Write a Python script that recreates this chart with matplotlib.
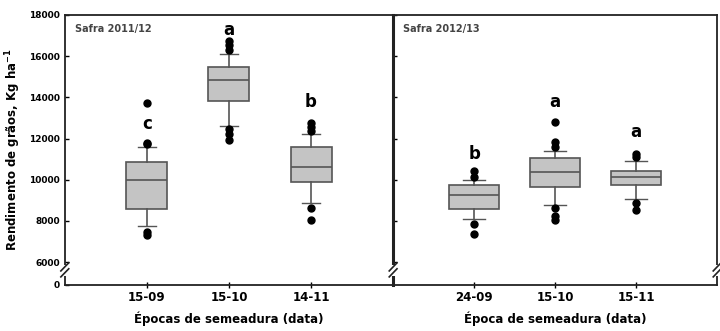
import numpy as np
import matplotlib.pyplot as plt
from matplotlib.patches import Rectangle

# data (Kg ha-1)
dates_1 = ['15-09', '15-10', '14-11']
med_1 = [10000, 14820, 10630]
q1_1 = [8600, 13810, 9900]
q3_1 = [10850, 15450, 11590]
whislo_1 = [7750, 12600, 8850]
whishi_1 = [11600, 16100, 12200]
fliers_1 = [[7480, 7300, 11720, 11780, 13700],
            [12450, 12200, 11950, 16300, 16550, 16750],
            [8650, 8030, 12350, 12550, 12750]]
letters_1 = ['c', 'a', 'b']
letter_y_1 = [12700, 17250, 13750]

dates_2 = ['24-09', '15-10', '15-11']
med_2 = [9280, 10390, 10150]
q1_2 = [8560, 9660, 9760]
q3_2 = [9760, 11060, 10430]
whislo_2 = [8070, 8750, 9040]
whishi_2 = [10000, 11400, 10920]
fliers_2 = [[7830, 7350, 10150, 10400],
            [8650, 8220, 8030, 11590, 11830, 12800],
            [8850, 8550, 11100, 11250]]
letters_2 = ['b', 'a', 'a']
letter_y_2 = [11250, 13750, 12300]

K = 0.185  # compression of the 0-6000 segment


def fwd(y):
    y = np.asarray(y, dtype=float)
    return np.where(y >= 6000, y, 6000 - (6000 - y) * K)


def inv(y):
    y = np.asarray(y, dtype=float)
    return np.where(y >= 6000, y, 6000 - (6000 - y) / K)


def stats(med, q1, q3, lo, hi, fl):
    return [dict(med=m, q1=a, q3=b, whislo=c, whishi=d, fliers=f)
            for m, a, b, c, d, f in zip(med, q1, q3, lo, hi, fl)]


def break_mark(ax, x):
    ax.add_patch(Rectangle((x - 0.012, 0.035), 0.024, 0.04, transform=ax.transAxes,
                           facecolor='white', edgecolor='none', clip_on=False, zorder=5))
    for dy in (0.0, 0.022):
        ax.plot([x - 0.012, x + 0.012], [0.03 + dy, 0.06 + dy], transform=ax.transAxes,
                color='#222222', lw=1.2, clip_on=False, zorder=6)


fig = plt.figure(figsize=(7.2, 3.31), dpi=100)
ax1 = fig.add_axes([0.090, 0.139, 0.456, 0.816])
ax2 = fig.add_axes([0.546, 0.139, 0.450, 0.816])

gray = '#c4c4c4'
edge = '#555555'

panels = [(ax1, dates_1, stats(med_1, q1_1, q3_1, whislo_1, whishi_1, fliers_1), letters_1, letter_y_1, 0.5,
           'Safra 2011/12', 'Épocas de semeadura (data)'),
          (ax2, dates_2, stats(med_2, q1_2, q3_2, whislo_2, whishi_2, fliers_2), letters_2, letter_y_2, 0.62,
           'Safra 2012/13', 'Época de semeadura (data)')]

for ax, dates, st, letters, ly, w, title, xlab in panels:
    pos = np.arange(1, len(dates) + 1)
    ax.bxp(st, positions=pos, widths=w, patch_artist=True,
           boxprops=dict(facecolor=gray, edgecolor=edge, lw=1.2),
           medianprops=dict(color=edge, lw=1.2),
           whiskerprops=dict(color=edge, lw=1.2),
           capprops=dict(color=edge, lw=1.0),
           capwidths=w * 0.45,
           flierprops=dict(marker='o', markerfacecolor='black', markeredgecolor='black', markersize=5))
    ax.set_yscale('function', functions=(fwd, inv))
    ax.set_ylim(0, 18000)
    ax.set_xlim(0, 4)
    ax.set_xticks(pos)
    ax.set_xticklabels(dates, fontsize=8.5, fontweight='bold')
    ax.set_xlabel(xlab, fontsize=8.5, fontweight='bold', labelpad=6)
    for p, t, y in zip(pos, letters, ly):
        ax.text(p, y, t, ha='center', va='center', fontsize=12, fontweight='bold')
    ax.text(0.03, 0.965, title, transform=ax.transAxes, ha='left', va='top',
            fontsize=7, color='#444444', fontweight='bold')
    for s in ax.spines.values():
        s.set_color('#222222')
        s.set_linewidth(1.3)
    ax.tick_params(axis='x', direction='inout', length=4, width=1, pad=2)
    ax.tick_params(axis='y', direction='in', length=3, width=1)

ax1.set_yticks([0, 6000, 8000, 10000, 12000, 14000, 16000, 18000])
ax1.set_yticklabels(['0', '6000', '8000', '10000', '12000', '14000', '16000', '18000'],
                    fontsize=6.5, fontweight='bold')
ax1.set_ylabel('Rendimento de grãos, Kg ha$^{\\mathbf{-1}}$', fontsize=8.5, fontweight='bold', labelpad=4)
ax1.spines['right'].set_visible(False)

ax2.set_yticks([6000, 8000, 10000, 12000, 14000, 16000, 18000])
ax2.set_yticklabels([])
ax2.spines['left'].set_linewidth(2.2)

break_mark(ax1, 0.0)
break_mark(ax2, 0.0)
break_mark(ax2, 1.0)

fig.savefig('out.png', dpi=100)
